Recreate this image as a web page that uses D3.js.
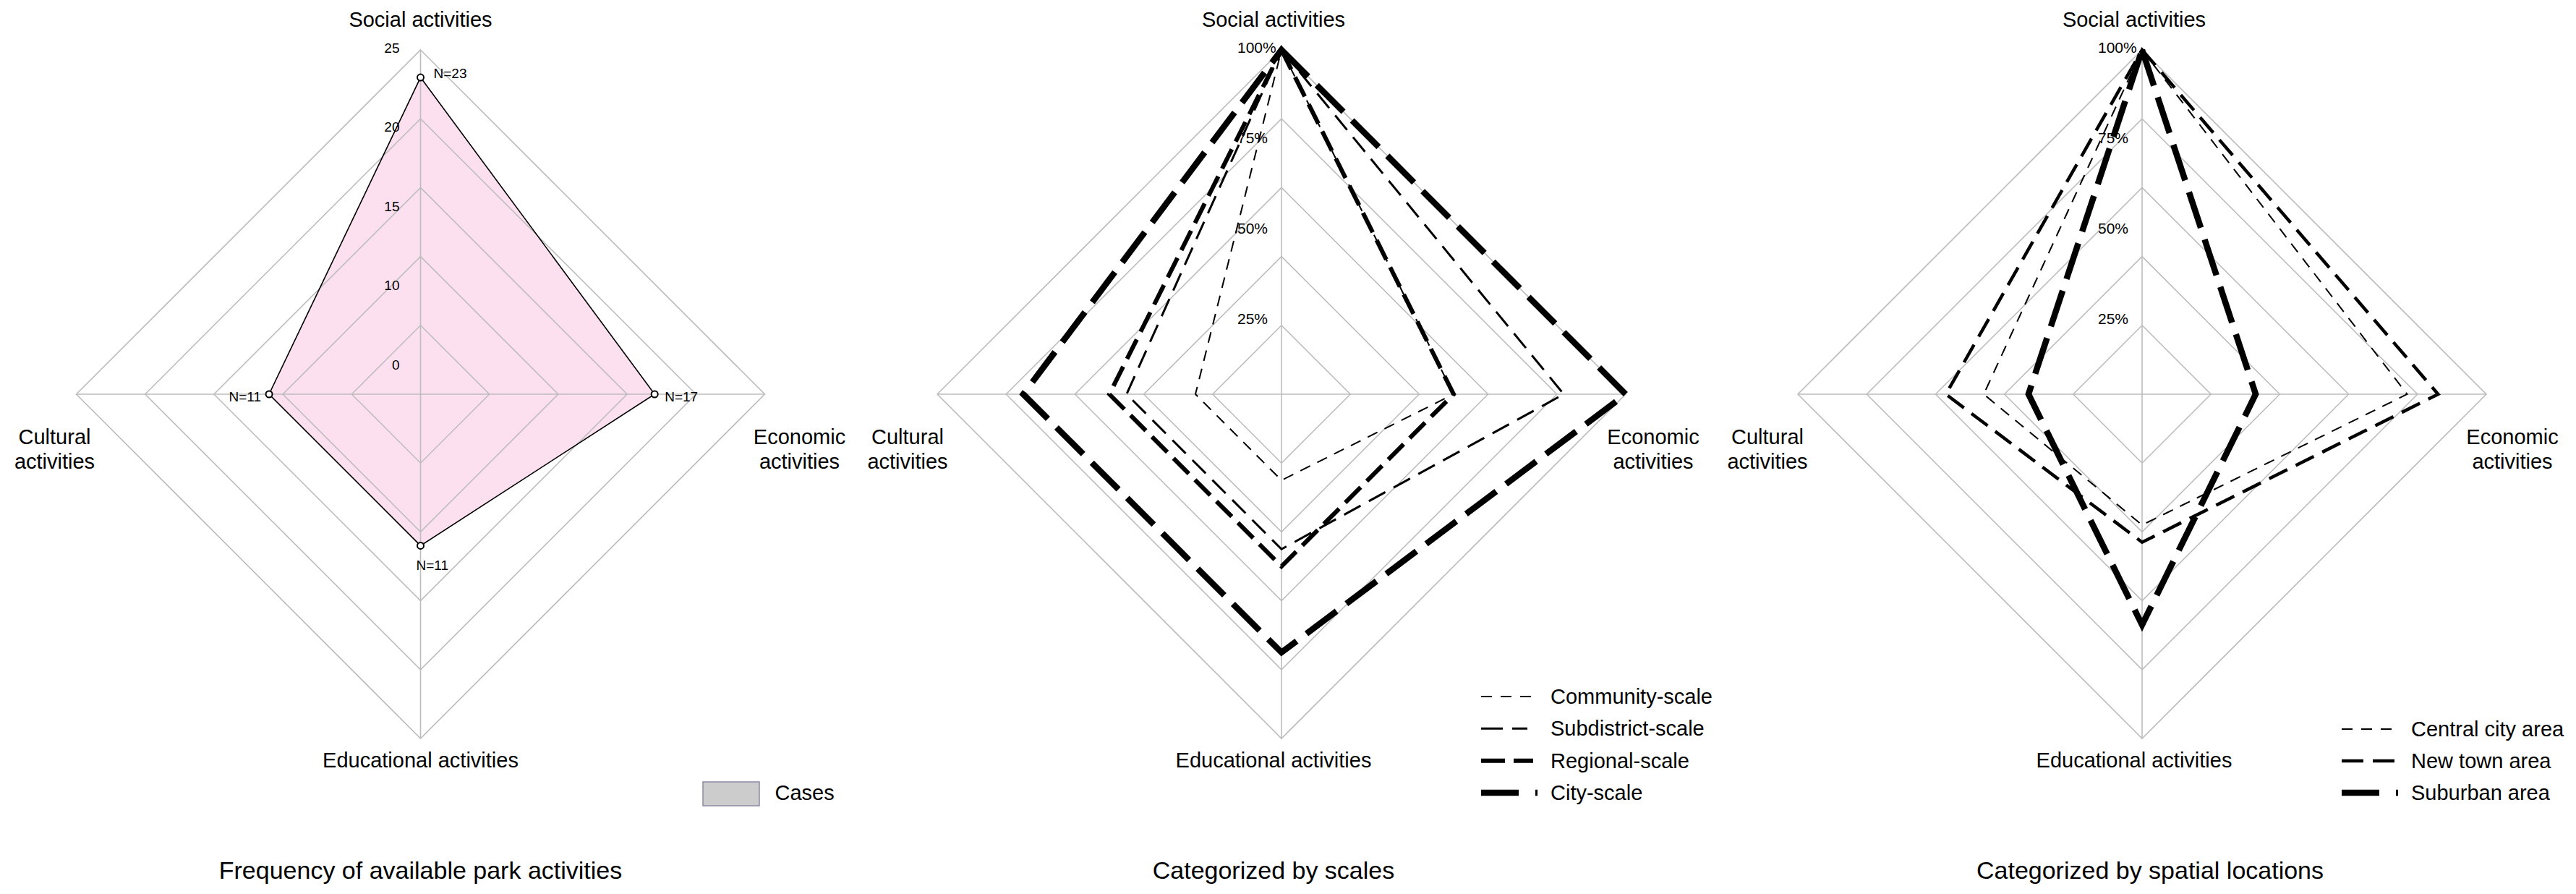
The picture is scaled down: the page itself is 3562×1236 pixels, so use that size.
<!DOCTYPE html>
<html><head><meta charset="utf-8">
<script src="https://cdn.jsdelivr.net/npm/d3@7"></script>
<style>
html,body{margin:0;padding:0;background:#fff;}
svg{display:block;}
text{font-family:Arial,"Liberation Sans",sans-serif;fill:#000;}
</style>
</head><body>
<svg id="c" width="3562" height="1236"></svg>
<script>
// ---------------- data ----------------
const axes = ["Social activities", "Economic activities", "Educational activities", "Cultural activities"];

// Panel 1: number of cases offering each activity
const caseValues = [23, 17, 11, 11];
const caseLabels = ["N=23", "N=17", "N=11", "N=11"];
const caseTicks = ["25", "20", "15", "10", "0"];
const caseRings = [5, 10, 15, 20, 25];

// Panel 2: categorized by scales (% of parks)
const scaleNames = ["Community-scale", "Subdistrict-scale", "Regional-scale", "City-scale"];
const communityValues = [100, 50, 25, 25];
const subdistrictValues = [100, 82, 45, 45];
const regionalValues = [100, 50, 50, 50];
const cityValues = [100, 100, 75, 75];

// Panel 3: categorized by spatial locations (% of parks)
const locationNames = ["Central city area", "New town area", "Suburban area"];
const centralValues = [100, 77, 38, 46];
const newTownValues = [100, 86, 43, 57];
const suburbanValues = [100, 33, 67, 33];

const pctTicks = ["100%", "75%", "50%", "25%"];
const pctRings = [20, 40, 60, 80, 100];

const titles = ["Frequency of available park activities", "Categorized by scales", "Categorized by spatial locations"];

// ---------------- drawing ----------------
const W = 3562, H = 1236;
const svg = d3.select("#c");
svg.append("rect").attr("width", W).attr("height", H).attr("fill", "#fff");

const R = 476, CY = 545;
const angle = d3.scalePoint().domain(axes).range([0, 1.5 * Math.PI]);
const GRID = "#bdbdbd";

function radialPath(r) {
  return d3.lineRadial()
    .angle((d, i) => angle(axes[i]))
    .radius(d => r(d))
    .curve(d3.curveLinearClosed);
}

function drawFrame(g, cx, r, rings, maxV, lab) {
  const grid = g.append("g").attr("transform", `translate(${cx},${CY})`);
  rings.forEach(v => {
    grid.append("path").attr("d", radialPath(r)([v, v, v, v]))
      .attr("fill", "none").attr("stroke", GRID).attr("stroke-width", 1.6);
  });
  axes.forEach(a => {
    const t = angle(a);
    grid.append("line").attr("x1", 0).attr("y1", 0)
      .attr("x2", r(maxV) * Math.sin(t)).attr("y2", -r(maxV) * Math.cos(t))
      .attr("stroke", GRID).attr("stroke-width", 1.6);
  });
  return grid;
}

function drawLabels(g, cx, lab) {
  const fs = 29;
  g.append("text").attr("x", cx + lab.top).attr("y", 37).attr("text-anchor", "middle")
    .attr("font-size", fs).text(axes[0]);
  g.append("text").attr("x", cx + lab.top).attr("y", 1061).attr("text-anchor", "middle")
    .attr("font-size", fs).text(axes[2]);
  const two = (txt, x) => {
    const parts = txt.split(" ");
    const t = g.append("text").attr("text-anchor", "middle").attr("font-size", fs);
    t.append("tspan").attr("x", x).attr("y", 614).text(parts[0]);
    t.append("tspan").attr("x", x).attr("y", 648).text(parts[1]);
  };
  two(axes[3], cx + lab.left);
  two(axes[1], cx + lab.right);
  g.append("text").attr("x", cx + lab.title).attr("y", 1215).attr("text-anchor", "middle")
    .attr("font-size", 34).text(lab.titleText);
}

// ---- Panel 1 ----
(function () {
  const cx = 581.5;
  const g = svg.append("g");
  const r = d3.scaleLinear().domain([0, 25]).range([0, R]);
  const pathGen = radialPath(r);
  const gc = g.append("g").attr("transform", `translate(${cx},${CY})`);
  gc.append("path").attr("d", pathGen(caseValues)).attr("fill", "#fde0ef").attr("stroke", "none");
  drawFrame(g, cx, r, caseRings, 25);
  const gs = g.append("g").attr("transform", `translate(${cx},${CY})`);
  gs.append("path").attr("d", pathGen(caseValues)).attr("fill", "none")
    .attr("stroke", "#000").attr("stroke-width", 1.6).attr("stroke-linejoin", "miter");
  const pts = caseValues.map((v, i) => {
    const t = angle(axes[i]);
    return [r(v) * Math.sin(t), -r(v) * Math.cos(t)];
  });
  gs.selectAll("circle.m").data(pts).join("circle")
    .attr("cx", d => d[0]).attr("cy", d => d[1]).attr("r", 4.5)
    .attr("fill", "#fff").attr("stroke", "#000").attr("stroke-width", 2);
  // N labels
  const offs = [[18, -6, "start"], [14, 3, "start"], [-6, 27, "start"], [-11, 3, "end"]];
  gs.selectAll("text.n").data(caseLabels).join("text")
    .attr("x", (d, i) => pts[i][0] + offs[i][0])
    .attr("y", (d, i) => pts[i][1] + offs[i][1])
    .attr("dy", "0.35em").attr("text-anchor", (d, i) => offs[i][2])
    .attr("font-size", 19).text(d => d);
  // tick labels
  const ty = d3.scalePoint().domain(caseTicks).range([66, 504]);
  g.selectAll("text.tick").data(caseTicks).join("text")
    .attr("x", cx - 29).attr("y", d => ty(d)).attr("dy", "0.35em")
    .attr("text-anchor", "end").attr("font-size", 19).text(d => d);
  drawLabels(g, cx, { top: 0, left: -506, right: 524, title: 0, titleText: titles[0] });
  // legend
  g.append("rect").attr("x", cx + 390.5).attr("y", 1081).attr("width", 78).attr("height", 33)
    .attr("fill", "#cccccc").attr("stroke", "#8a8aa3").attr("stroke-width", 1.5);
  g.append("text").attr("x", cx + 490).attr("y", 1106).attr("font-size", 29).text("Cases");
})();

// ---- Panels 2 & 3 ----
function linePanel(cx, series, lab, legendRows) {
  const g = svg.append("g");
  const r = d3.scaleLinear().domain([0, 100]).range([0, R]);
  drawFrame(g, cx, r, pctRings, 100);
  const pathGen = radialPath(r);
  const gs = g.append("g").attr("transform", `translate(${cx},${CY})`);
  gs.selectAll("path.s").data(series).join("path")
    .attr("d", d => pathGen(d.values)).attr("fill", "none")
    .attr("stroke", "#000").attr("stroke-width", d => d.w)
    .attr("stroke-dasharray", d => d.dash).attr("stroke-linejoin", "miter")
    .attr("stroke-miterlimit", 10);
  const ty = d3.scalePoint().domain(pctTicks).range([66, 441]);
  g.selectAll("text.tick").data(pctTicks).join("text")
    .attr("x", cx - 61).attr("y", d => ty(d)).attr("dy", "0.35em")
    .attr("text-anchor", "start").attr("font-size", 21).text(d => d);
  drawLabels(g, cx, lab);
  const ly = d3.scalePoint().domain(series.map(d => d.name)).range(legendRows);
  const lg = g.append("g");
  series.forEach(s => {
    const y = ly(s.name);
    lg.append("line").attr("x1", cx + 276).attr("x2", cx + 276 + s.legLen).attr("y1", y).attr("y2", y)
      .attr("stroke", "#000").attr("stroke-width", s.w).attr("stroke-dasharray", s.legDash);
    lg.append("text").attr("x", cx + 372).attr("y", y).attr("dy", "0.35em")
      .attr("font-size", 29).text(s.name);
  });
}

linePanel(1772, [
  { name: scaleNames[0], values: communityValues, w: 2, dash: "15,11", legDash: "15,12", legLen: 74 },
  { name: scaleNames[1], values: subdistrictValues, w: 3, dash: "26,13", legDash: "30,13", legLen: 64 },
  { name: scaleNames[2], values: regionalValues, w: 6, dash: "30,12", legDash: "33,12", legLen: 72 },
  { name: scaleNames[3], values: cityValues, w: 8.5, dash: "52,17", legDash: "52,23,3,40", legLen: 78 }
], { top: -11, left: -517, right: 514, title: -11, titleText: titles[1] }, [963, 1096]);

linePanel(2962, [
  { name: locationNames[0], values: centralValues, w: 2, dash: "15,11", legDash: "15,12", legLen: 74 },
  { name: locationNames[1], values: newTownValues, w: 4.5, dash: "28,13", legDash: "30,13", legLen: 74 },
  { name: locationNames[2], values: suburbanValues, w: 8.5, dash: "52,17", legDash: "52,23,3,40", legLen: 78 }
], { top: -11, left: -518, right: 512, title: 11, titleText: titles[2] }, [1008, 1096]);
</script>
</body></html>
